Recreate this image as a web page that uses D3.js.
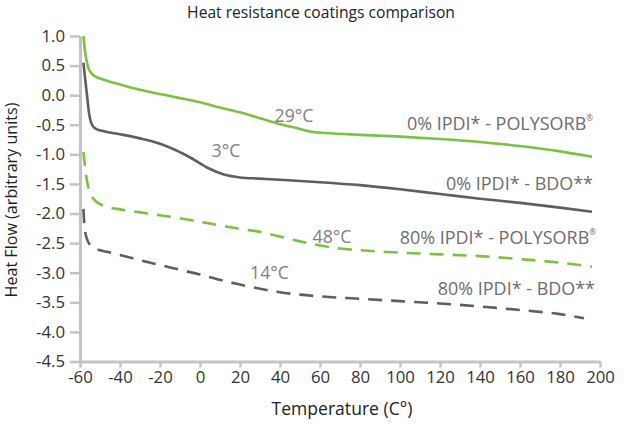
<!DOCTYPE html>
<html><head><meta charset="utf-8">
<script src="https://cdn.jsdelivr.net/npm/d3@7"></script>
<style>
html,body{margin:0;padding:0;background:#fff;}
svg{display:block;font-family:"Open Sans",sans-serif;}
</style></head>
<body><svg id="chart" width="638" height="424"></svg>
<script>
// ---- data ----
const chartTitle = "Heat resistance coatings comparison";
const xTitle = "Temperature (C°)";
const yTitle = "Heat Flow (arbitrary units)";
const xTicks = [-60,-40,-20,0,20,40,60,80,100,120,140,160,180,200];
const yTicks = [1.0,0.5,0.0,-0.5,-1.0,-1.5,-2.0,-2.5,-3.0,-3.5,-4.0,-4.5];

const seriesNames = ["0% IPDI* - POLYSORB", "0% IPDI* - BDO**", "80% IPDI* - POLYSORB", "80% IPDI* - BDO**"];
const seriesSup = ["®", "", "®", ""];

const tempPolysorb0 = [-58.3,-57.5,-56,-54,-52,-48,-40,-30,-20,-10,0,10,20,30,40,50,56,63,80,100,120,140,160,180,196];
const heatPolysorb0 = [1.0,0.75,0.48,0.36,0.31,0.26,0.18,0.09,0.02,-0.05,-0.12,-0.21,-0.29,-0.39,-0.49,-0.57,-0.62,-0.64,-0.67,-0.70,-0.74,-0.79,-0.86,-0.95,-1.04];

const tempBdo0 = [-58.3,-57.5,-56.5,-55.5,-54,-52,-48,-40,-30,-20,-12,-4,4,12,20,30,40,60,80,100,120,140,160,180,196];
const heatBdo0 = [0.55,0.3,0.0,-0.3,-0.5,-0.57,-0.61,-0.66,-0.73,-0.82,-0.93,-1.07,-1.23,-1.34,-1.39,-1.41,-1.43,-1.47,-1.52,-1.59,-1.67,-1.75,-1.82,-1.90,-1.97];

const tempPolysorb80 = [-58.3,-57.5,-56.5,-55,-53,-50,-46,-40,-30,-20,-10,0,10,20,30,40,50,60,70,80,100,120,140,160,180,196];
const heatPolysorb80 = [-0.96,-1.2,-1.45,-1.65,-1.76,-1.84,-1.89,-1.93,-1.98,-2.03,-2.08,-2.14,-2.20,-2.26,-2.31,-2.39,-2.47,-2.54,-2.59,-2.62,-2.66,-2.69,-2.72,-2.77,-2.83,-2.90];

const tempBdo80 = [-58.3,-58,-57.5,-56.5,-55,-53,-50,-46,-40,-30,-20,-10,0,10,20,30,40,50,60,80,100,120,140,160,180,192];
const heatBdo80 = [-1.92,-2.1,-2.28,-2.43,-2.53,-2.58,-2.62,-2.65,-2.70,-2.79,-2.87,-2.95,-3.03,-3.12,-3.20,-3.27,-3.33,-3.37,-3.40,-3.44,-3.48,-3.52,-3.57,-3.63,-3.70,-3.77];

// series label anchors (temperature, heat flow)
const labelTemp = [196.5, 196.5, 198, 197.5];
const labelHeat = [-0.59, -1.61, -2.51, -3.38];

// glass transition annotations
const tgText = ["29°C", "3°C", "48°C", "14°C"];
const tgTemp = [47, 13, 66, 34.75];
const tgHeat = [-0.45, -1.04, -2.50, -3.10];

// ---- drawing ----
const svg = d3.select("#chart");
const green = "#7dc143", gray = "#5f5f61";
const styles = [
  {color: green, dash: null},
  {color: gray, dash: null},
  {color: green, dash: "14,9"},
  {color: gray, dash: "14,9"}
];
const temps = [tempPolysorb0, tempBdo0, tempPolysorb80, tempBdo80];
const heats = [heatPolysorb0, heatBdo0, heatPolysorb80, heatBdo80];

const x = d3.scaleLinear().domain([-60, 200]).range([80, 600]);
const y = d3.scaleLinear().domain([-4.5, 1.0]).range([361.5, 36]);

function fit(sel, target) {
  const base = +sel.attr("font-size");
  const len = sel.node().getComputedTextLength();
  if (len > 0) sel.attr("font-size", base * target / len);
  return base * target / len;
}

// title
const title = svg.append("text").attr("x", 321).attr("y", 17.5).attr("text-anchor", "middle")
  .attr("font-size", 14).attr("fill", "#222").text(chartTitle);
fit(title, 268);

// axes
const axisColor = "#c3c3c3";
const yAxis = svg.append("g").attr("transform", "translate(80,0)")
  .call(d3.axisLeft(y).tickValues(yTicks).tickFormat(d3.format(".1f")).tickSize(10).tickSizeOuter(0).tickPadding(5));
const xAxis = svg.append("g").attr("transform", "translate(0,361.5)")
  .call(d3.axisBottom(x).tickValues(xTicks).tickFormat(d3.format("d")).tickSize(6).tickSizeOuter(0).tickPadding(4));
[xAxis, yAxis].forEach(g => {
  g.select(".domain").attr("stroke", axisColor).attr("stroke-width", 3);
  g.selectAll(".tick line").attr("stroke", axisColor).attr("stroke-width", 2.5);
  g.selectAll(".tick text").attr("fill", "#333").attr("font-size", 14).attr("font-family", "Open Sans, sans-serif");
});
yAxis.selectAll(".tick text").text(d => d3.format(".1f")(d).replace("−", "-"));
xAxis.selectAll(".tick text").text(d => String(d));
// size tick labels from the "-4.5" label width
const probe = yAxis.selectAll(".tick text").filter(d => d === -4.5);
const tickSize = fit(probe, 29);
yAxis.selectAll(".tick text").attr("font-size", tickSize);
xAxis.selectAll(".tick text").attr("font-size", tickSize);

// axis titles
const xt = svg.append("text").attr("x", 342).attr("y", 415).attr("text-anchor", "middle")
  .attr("font-size", 16).attr("fill", "#222").text(xTitle);
fit(xt, 141);
const yt = svg.append("text").attr("transform", "translate(17,200) rotate(-90)").attr("text-anchor", "middle")
  .attr("font-size", 16).attr("fill", "#222").text(yTitle);
fit(yt, 195);

// lines
const line = d3.line().x(d => x(d[0])).y(d => y(d[1])).curve(d3.curveMonotoneX);
temps.forEach((t, i) => {
  const pts = t.map((v, j) => [v, heats[i][j]]);
  svg.append("path").datum(pts).attr("d", line)
    .attr("fill", "none").attr("stroke", styles[i].color).attr("stroke-width", 2.6)
    .attr("stroke-dasharray", styles[i].dash);
});

// series labels
const labelColor = "#6d6d6f";
const labelWidths = [181, 148, 186, 158];
let lblSize = 0;
seriesNames.forEach((name, i) => {
  const probeT = svg.append("text").attr("font-size", 15).text(name);
  lblSize += fit(probeT, labelWidths[i]) / seriesNames.length;
  probeT.remove();
});
seriesNames.forEach((name, i) => {
  const t = svg.append("text").attr("x", x(labelTemp[i])).attr("y", y(labelHeat[i]))
    .attr("text-anchor", "end").attr("font-size", lblSize).attr("fill", labelColor);
  t.append("tspan").text(name);
  if (seriesSup[i]) t.append("tspan").attr("font-size", lblSize * 0.45).attr("dy", -lblSize * 0.5).text(seriesSup[i]);
});

// Tg annotations
const tgProbe = svg.append("text").attr("font-size", 16).text(tgText[0]);
const tgSize = fit(tgProbe, 39);
tgProbe.remove();
tgText.forEach((s, i) => {
  svg.append("text").attr("x", x(tgTemp[i])).attr("y", y(tgHeat[i])).attr("text-anchor", "middle")
    .attr("font-size", tgSize).attr("fill", "#808080").text(s);
});
</script>
</body></html>
